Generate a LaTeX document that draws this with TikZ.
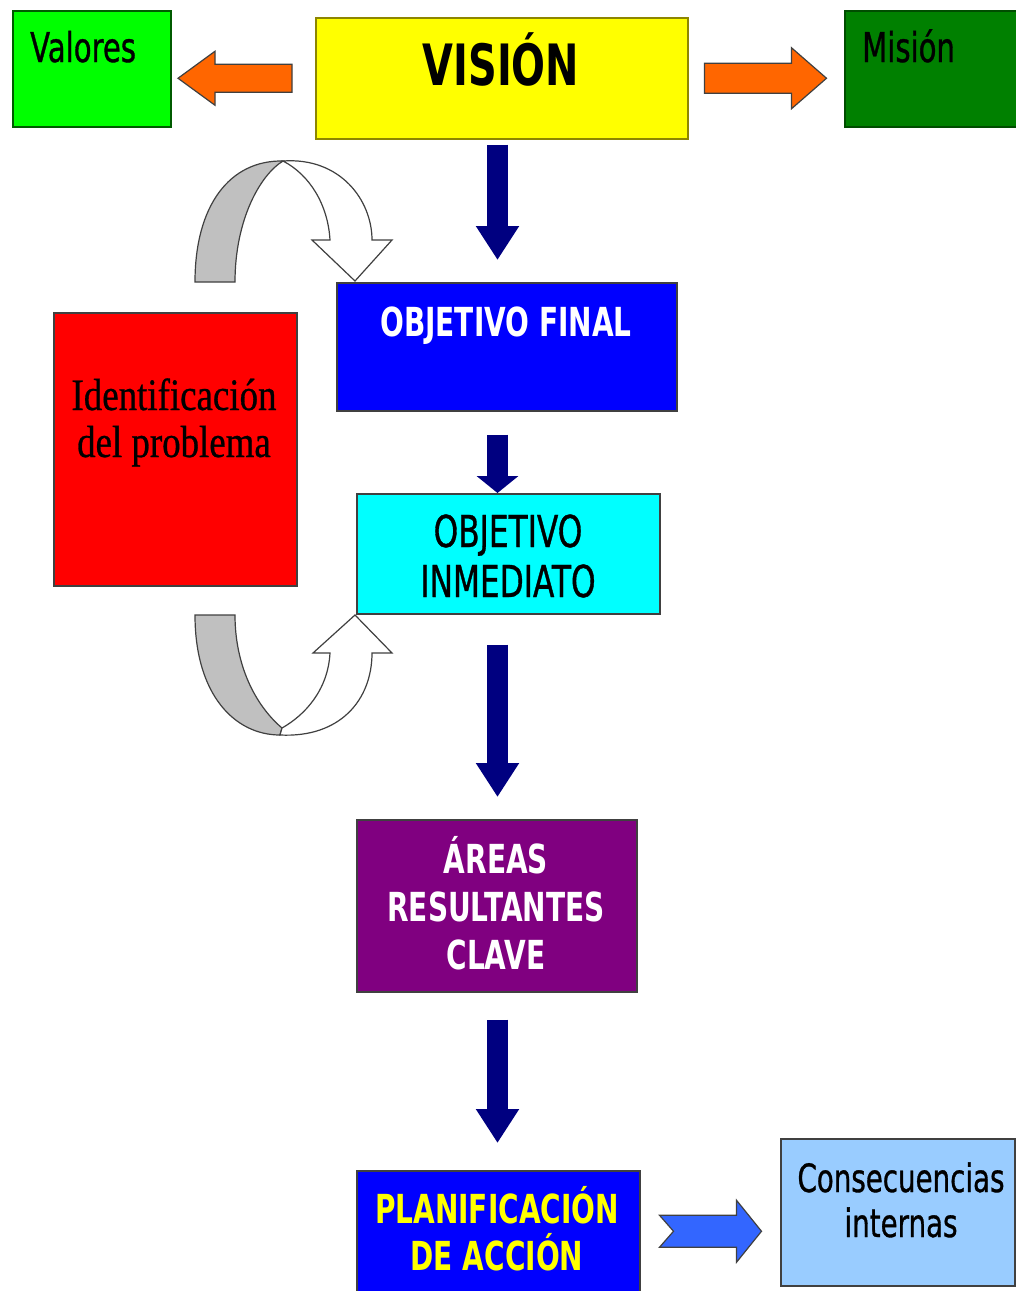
\documentclass[tikz,border=0pt]{standalone}
\usepackage{fontspec}
\usepackage{tikz}
\usetikzlibrary{positioning,calc,arrows.meta}
\newfontfamily\dvs{DejaVu Sans}[FakeStretch=0.70]
\newfontfamily\dvr{DejaVu Sans}[FakeStretch=0.71,FakeBold=0.8]
\newfontfamily\lsr{Liberation Serif}[FakeStretch=0.82,FakeBold=0.6]
\definecolor{navy}{RGB}{0,0,128}
\definecolor{naranja}{RGB}{255,102,0}
\definecolor{verdeclaro}{RGB}{0,255,0}
\definecolor{verdeosc}{RGB}{0,128,0}
\definecolor{morado}{RGB}{128,0,128}
\definecolor{celeste}{RGB}{153,204,255}
\definecolor{turquesa}{RGB}{0,255,255}
\definecolor{amarillo}{RGB}{255,255,0}
\definecolor{azul}{RGB}{0,0,255}
\definecolor{azulflecha}{RGB}{51,102,255}
\definecolor{gris}{RGB}{192,192,192}

\begin{document}
\begin{tikzpicture}[x=1pt,y=-1pt,
    box/.style={draw=black!75, line width=1.5pt, inner sep=0pt, anchor=north west},
    txt/.style={inner sep=0pt, align=center},
    navyarrow/.style={draw=navy, line width=21pt, -{Triangle[width=41pt,length=34pt]}},
    blockarrow/.style={draw=black!75, line width=1.2pt, line join=miter}]
    \useasboundingbox (0,0) rectangle (1016,1291);
    \clip (0,0) rectangle (1016,1291);

    % cajas
    \node[box, fill=verdeclaro, draw=verdeosc!70!black, minimum width=158, minimum height=116] (valores) at (12,10) {};
    \node[box, fill=amarillo, draw=olive, minimum width=372, minimum height=121] (vision) at (315,17) {};
    \node[box, fill=verdeosc, draw=verdeosc!60!black, minimum width=200, minimum height=116] (mision) at (844,10) {};
    \node[box, fill=azul, minimum width=340, minimum height=128] (objfinal) at (336,282) {};
    \node[box, fill=red, minimum width=243, minimum height=273] (problema) at (53,312) {};
    \node[box, fill=turquesa, minimum width=303, minimum height=120] (objinm) at (356,493) {};
    \node[box, fill=morado, minimum width=280, minimum height=172] (areas) at (356,819) {};
    \node[box, fill=azul, minimum width=283, minimum height=121] (plan) at (356,1170) {};
    \node[box, fill=celeste, minimum width=234, minimum height=147] (cons) at (780,1138) {};

    % textos
    \node[txt, anchor=base west, font=\dvr\fontsize{41}{45}\selectfont] (valorestxt) at (30,62) {Valores};
    \node[txt, anchor=base, font=\dvs\bfseries\fontsize{57}{60}\selectfont] (visiontxt) at (501,85) {VISIÓN};
    \node[txt, anchor=base west, font=\dvr\fontsize{41}{45}\selectfont] (misiontxt) at (862,62) {Misión};
    \node[txt, anchor=base, text=white, font=\dvs\bfseries\fontsize{40}{48}\selectfont] (objfinaltxt) at (506,336) {OBJETIVO FINAL};
    \node[txt, anchor=base, font=\lsr\fontsize{45}{47}\selectfont] (problematxt) at (174,457) {Identificación\\del problema};
    \node[txt, anchor=base, font=\dvr\fontsize{44}{50}\selectfont] (objinmtxt) at (508,597) {OBJETIVO\\INMEDIATO};
    \node[txt, anchor=base, text=white, font=\dvs\bfseries\fontsize{40}{48}\selectfont] (areastxt) at (496,969) {ÁREAS\\RESULTANTES\\CLAVE};
    \node[txt, anchor=base, text=amarillo, font=\dvs\bfseries\fontsize{40}{47}\selectfont] (plantxt) at (497,1270) {PLANIFICACIÓN\\DE ACCIÓN};
    \node[txt, anchor=base, font=\dvr\fontsize{39}{45}\selectfont] (constxt) at (901,1237) {Consecuencias\\internas};

    % flechas
    \coordinate (eje) at (497.5,0);
    \draw[navyarrow, shorten <=5pt, shorten >=22pt] (vision.south -| eje) -- (objfinal.north -| eje);
    \draw[navyarrow, -{Triangle[width=41pt,length=17pt]}, shorten <=23pt] (objfinal.south -| eje) -- (objinm.north -| eje);
    \draw[navyarrow, shorten <=30pt, shorten >=22pt] (objinm.south -| eje) -- (areas.north -| eje);
    \draw[navyarrow, shorten <=27pt, shorten >=27pt] (areas.south -| eje) -- (plan.north -| eje);

    \draw[blockarrow, fill=naranja] ([xshift=-23pt]vision.west) ++(0,-14) -- ++(-77,0) -- ++(0,-13)
        -- ++(-37,27) -- ++(37,27) -- ++(0,-13) -- ++(77,0) -- cycle;
    \draw[blockarrow, fill=naranja] ([xshift=16pt]vision.east) ++(0,-15) -- ++(87,0) -- ++(0,-15.5)
        -- ++(35,30.5) -- ++(-35,30.5) -- ++(0,-15.5) -- ++(-87,0) -- cycle;
    \draw[blockarrow, fill=azulflecha] ([xshift=19pt]plan.east) ++(0,-16) -- ++(77,0) -- ++(0,-15)
        -- ++(25,31) -- ++(-25,31) -- ++(0,-15) -- ++(-77,0) -- ++(14,-16) -- cycle;

    % flechas curvas
    \draw[blockarrow, fill=gris] (195,282) .. controls (195,205) and (230,160) .. (283,161)
        .. controls (260,175) and (235,220) .. (235,282) -- cycle;
    \draw[blockarrow, fill=white] (283,161) .. controls (340,157) and (372,200) .. (372,240)
        -- (392,240) -- (355,281) -- (312,240) -- (330,240)
        .. controls (328,205) and (310,175) .. (283,161) -- cycle;
    \draw[blockarrow, fill=gris] (195,615) .. controls (195,695) and (235,735) .. (280,735)
        -- (282,728) .. controls (255,705) and (235,665) .. (235,615) -- cycle;
    \draw[blockarrow, fill=white] (280,735) .. controls (340,738) and (372,700) .. (372,653)
        -- (392,653) -- (355,615) -- (313,653) -- (330,653)
        .. controls (328,690) and (305,715) .. (282,728) -- cycle;
\end{tikzpicture}
\end{document}
